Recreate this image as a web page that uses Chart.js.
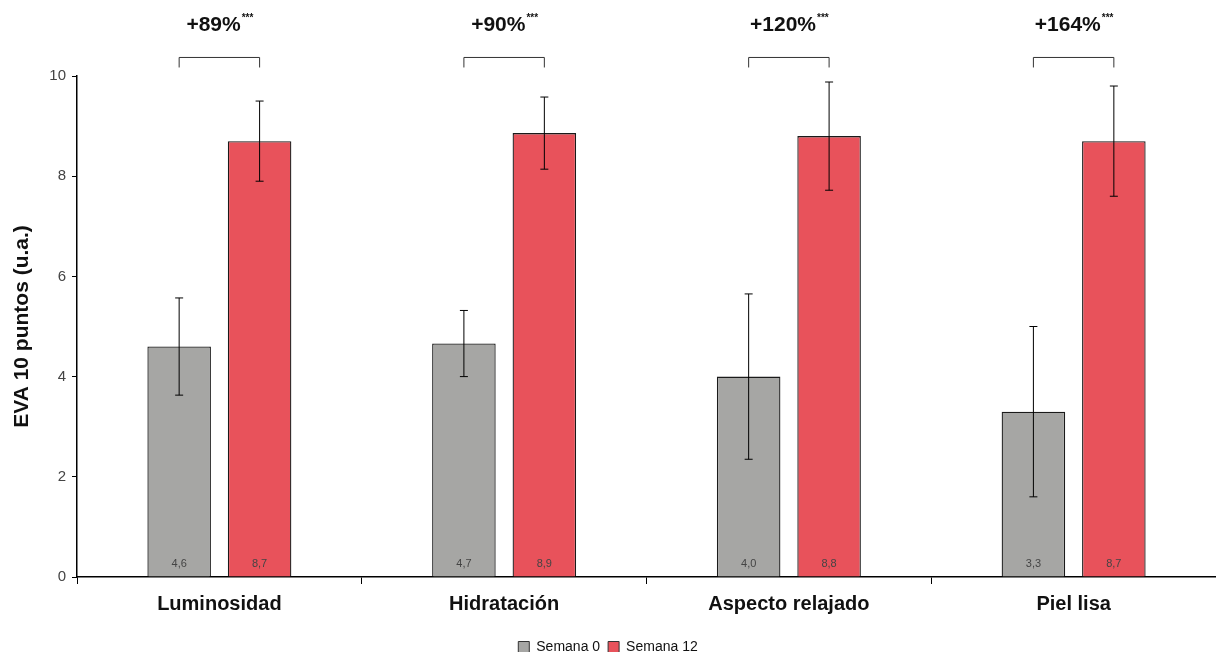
<!DOCTYPE html>
<html>
<head>
<meta charset="utf-8">
<script src="https://cdn.jsdelivr.net/npm/chart.js@4"></script>
<style>
  html, body { margin: 0; padding: 0; background: #fff; overflow: hidden; }
  #wrap { width: 1216px; height: 652px; }
</style>
</head>
<body>
<div id="wrap"><canvas id="evaChart" width="1216" height="652"></canvas></div>
<script>
const categories = ['Luminosidad', 'Hidratación', 'Aspecto relajado', 'Piel lisa'];
const week0Values = [4.6, 4.66, 4.0, 3.3];
const week12Values = [8.7, 8.86, 8.8, 8.7];
const week0Errors = [0.97, 0.66, 1.65, 1.7];
const week12Errors = [0.8, 0.72, 1.08, 1.1];
const increaseLabels = ['+89%', '+90%', '+120%', '+164%'];
const significance = ['***', '***', '***', '***'];
const yTicks = [0, 2, 4, 6, 8, 10];

const GRAY = '#a6a6a4';
const RED = '#e8525b';
const FONT = '"Liberation Sans", Arial, sans-serif';

const fmt = v => v.toFixed(1).replace('.', ',');

// error bars + value labels inside the bars
const barExtras = {
  id: 'barExtras',
  afterDatasetsDraw(chart) {
    const ctx = chart.ctx;
    const y = chart.scales.y;
    const errs = [week0Errors, week12Errors];
    ctx.save();
    chart.data.datasets.forEach((ds, di) => {
      const meta = chart.getDatasetMeta(di);
      meta.data.forEach((bar, i) => {
        const v = ds.data[i];
        const e = errs[di][i];
        const top = y.getPixelForValue(v + e);
        const bot = y.getPixelForValue(v - e);
        ctx.strokeStyle = '#000';
        ctx.lineWidth = 1;
        ctx.beginPath();
        ctx.moveTo(bar.x, top); ctx.lineTo(bar.x, bot);
        ctx.moveTo(bar.x - 4, top); ctx.lineTo(bar.x + 4, top);
        ctx.moveTo(bar.x - 4, bot); ctx.lineTo(bar.x + 4, bot);
        ctx.stroke();
        ctx.fillStyle = '#444';
        ctx.font = '11px ' + FONT;
        ctx.textAlign = 'center';
        ctx.textBaseline = 'middle';
        ctx.fillText(fmt(v), bar.x, y.getPixelForValue(0) - 13);
      });
    });
    ctx.restore();
  }
};

// brackets with the percentage increase above each pair
const brackets = {
  id: 'brackets',
  afterDraw(chart) {
    const ctx = chart.ctx;
    const y = chart.scales.y;
    const m0 = chart.getDatasetMeta(0).data;
    const m1 = chart.getDatasetMeta(1).data;
    const yLine = y.getPixelForValue(10.37);
    const yTick = y.getPixelForValue(10.17);
    ctx.save();
    categories.forEach((c, i) => {
      const x0 = m0[i].x, x1 = m1[i].x;
      ctx.strokeStyle = '#333';
      ctx.lineWidth = 1;
      ctx.beginPath();
      ctx.moveTo(x0, yTick); ctx.lineTo(x0, yLine); ctx.lineTo(x1, yLine); ctx.lineTo(x1, yTick);
      ctx.stroke();
      ctx.fillStyle = '#111';
      ctx.font = 'bold 21px ' + FONT;
      const w1 = ctx.measureText(increaseLabels[i]).width;
      ctx.font = 'bold 10px ' + FONT;
      const w2 = ctx.measureText(significance[i]).width;
      const start = (x0 + x1) / 2 - (w1 + w2) / 2;
      const base = y.getPixelForValue(10.9);
      ctx.textAlign = 'left';
      ctx.textBaseline = 'alphabetic';
      ctx.font = 'bold 21px ' + FONT;
      ctx.fillText(increaseLabels[i], start, base);
      ctx.font = 'bold 10px ' + FONT;
      ctx.fillText(significance[i], start + w1 + 1, base - 10);
    });
    ctx.restore();
  }
};

new Chart(document.getElementById('evaChart').getContext('2d'), {
  type: 'bar',
  data: {
    labels: categories,
    datasets: [
      {
        label: 'Semana 0',
        data: week0Values,
        backgroundColor: GRAY,
        borderColor: '#1a1a1a',
        borderWidth: 1.3,
        barPercentage: 0.79,
        categoryPercentage: 0.565
      },
      {
        label: 'Semana 12',
        data: week12Values,
        backgroundColor: RED,
        borderColor: '#1a1a1a',
        borderWidth: 1.3,
        barPercentage: 0.79,
        categoryPercentage: 0.565
      }
    ]
  },
  options: {
    responsive: false,
    animation: false,
    layout: { padding: { top: 76, left: 0, right: 0, bottom: -12 } },
    plugins: {
      legend: {
        position: 'bottom',
        labels: {
          color: '#111',
          font: { family: FONT, size: 14 },
          boxWidth: 11,
          boxHeight: 11,
          padding: 8,
          generateLabels(chart) {
            return chart.data.datasets.map((ds, i) => ({
              text: ds.label,
              fillStyle: ds.backgroundColor,
              strokeStyle: '#333',
              lineWidth: 1,
              datasetIndex: i,
              fontColor: '#111'
            }));
          }
        }
      },
      tooltip: { enabled: false }
    },
    scales: {
      x: {
        afterFit(scale) { scale.height = 55; },
        grid: { display: true, drawOnChartArea: false, tickLength: 7, color: '#000' },
        border: { color: '#000', width: 1.5 },
        ticks: { color: '#111', font: { family: FONT, size: 20, weight: 'bold' }, padding: 8 }
      },
      y: {
        min: 0,
        max: 10,
        afterBuildTicks(scale) { scale.ticks = yTicks.map(v => ({ value: v })); },
        afterFit(scale) { scale.width = 77; },
        grid: { display: true, drawOnChartArea: false, tickLength: 5, color: '#000' },
        border: { color: '#000', width: 1.5 },
        ticks: { color: '#444', font: { family: FONT, size: 15 }, padding: 6 },
        title: {
          display: true,
          text: 'EVA 10 puntos (u.a.)',
          color: '#111',
          font: { family: FONT, size: 21, weight: 'bold' },
          padding: { top: 10, bottom: 0 }
        }
      }
    }
  },
  plugins: [barExtras, brackets]
});
</script>
</body>
</html>
